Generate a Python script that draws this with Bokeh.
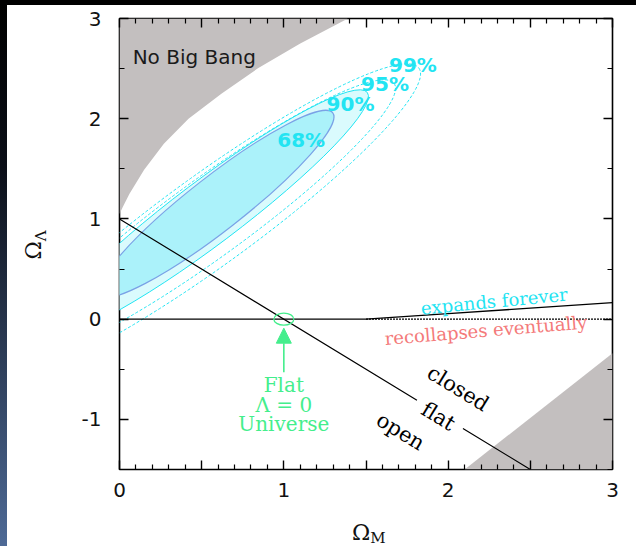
from bokeh.plotting import figure
from bokeh.models import FixedTicker, LinearAxis, Arrow, NormalHead, Div, Range1d
from bokeh.layouts import column, row
from bokeh.embed import file_html
from bokeh.resources import INLINE
from bokeh.core.properties import value

# ---------------- data ----------------
x_major_ticks = [0.0, 0.5, 1.0, 1.5, 2.0, 2.5, 3.0]
x_tick_labels = ["0", "", "1", "", "2", "", "3"]
x_minor_ticks = [0.1, 0.2, 0.3, 0.4, 0.6, 0.7, 0.8, 0.9, 1.1, 1.2, 1.3, 1.4,
                 1.6, 1.7, 1.8, 1.9, 2.1, 2.2, 2.3, 2.4, 2.6, 2.7, 2.8, 2.9]
y_major_ticks = [-1.0, 0.0, 1.0, 2.0, 3.0]
y_tick_labels = ["-1", "0", "1", "2", "3"]
y_minor_ticks = [-1.5, -0.5, 0.5, 1.5, 2.5]

x_title = ("\u03a9", "M")
y_title = ("\u03a9", "\u039b")

# "No Big Bang" excluded region (upper left)
nbb_x = [0.0, 0.0, 0.02, 0.06, 0.15, 0.27, 0.42, 0.62, 0.84, 1.10, 1.39]
nbb_y = [3.0, 1.05, 1.12, 1.25, 1.49, 1.75, 2.00, 2.25, 2.50, 2.75, 3.00]

# excluded region (lower right)
lr_x = [2.10, 3.00, 3.00]
lr_y = [-1.50, -0.34, -1.50]

# confidence contours (approximated as ellipses)
levels = ["68%", "90%", "95%", "99%"]
cont_cx = [0.588, 0.536, 0.539, 0.542]
cont_cy = [1.150, 1.061, 1.003, 0.980]
cont_w = [296, 400, 460, 520]      # major axis, px
cont_h = [54, 64, 78, 90]          # minor axis, px
cont_ang = [38.0, 37.0, 36.0, 36.0]
lab_x = [0.96, 1.26, 1.47, 1.64]
lab_y = [1.79, 2.15, 2.35, 2.54]

# flat universe line  (Omega_L = 1 - Omega_M), broken around the "flat" label
flat_x = [0.0, 1.81, float("nan"), 2.09, 2.50]
flat_y = [1.0, -0.81, float("nan"), -1.09, -1.50]

# Omega_L = 0 line and expand/recollapse boundary
zero_solid_x = [0.0, 1.5]
zero_dot_x = [1.5, 3.0]
zero_y = [0.0, 0.0]
exp_x = [1.5, 2.0, 2.5, 3.0]
exp_y = [0.0, 0.055, 0.11, 0.166]

# flat lambda = 0 universe marker + arrow
flat_pt_x = [1.0]
flat_pt_y = [0.0]
arrow_x = [1.0, 1.0]
arrow_y = [-0.53, -0.09]
flat_text = ["Flat", "\u039b = 0", "Universe"]
flat_text_y = [-0.66, -0.86, -1.05]

curv_text = ["closed", "flat", "open"]
curv_x = [2.06, 1.94, 1.71]
curv_y = [-0.69, -0.97, -1.12]

# ---------------- colours ----------------
GREY = "#c3bfbf"
FILL68 = "#abf2fa"
FILL90 = "#dafbfd"
LINE68 = "#7aa2e6"
CYAN = "#22e4f2"
GREEN = "#44ee8c"
SALMON = "#f47a7a"

p = figure(frame_width=493, frame_height=451,
           x_range=Range1d(0, 3), y_range=Range1d(-1.5, 3),
           output_backend="svg", toolbar_location=None,
           min_border_left=45, min_border_right=24,
           min_border_top=13, min_border_bottom=41,
           background_fill_color="white", border_fill_color="white",
           outline_line_color="black", outline_line_width=1.6)
p.xgrid.grid_line_color = None
p.ygrid.grid_line_color = None


def style_axis(ax, ticks, minor, labels, show):
    ax.ticker = FixedTicker(ticks=ticks, minor_ticks=minor)
    ax.axis_line_color = None
    ax.major_tick_in = 9
    ax.major_tick_out = 0
    ax.minor_tick_in = 5
    ax.minor_tick_out = 0
    ax.major_tick_line_color = "black"
    ax.major_tick_line_width = 1.4
    ax.minor_tick_line_color = "black"
    ax.minor_tick_line_width = 1.2
    ax.major_label_overrides = {t: l for t, l in zip(ticks, labels)}
    if show:
        ax.major_label_text_font = "DejaVu Sans"
        ax.major_label_text_font_size = "20px"
        ax.major_label_text_color = "#111111"
    else:
        ax.major_label_text_font_size = "0px"
        ax.major_label_text_alpha = 0
        ax.major_label_standoff = 0


style_axis(p.xaxis[0], x_major_ticks, x_minor_ticks, x_tick_labels, True)
p.xaxis[0].major_label_standoff = 13
style_axis(p.yaxis[0], y_major_ticks, y_minor_ticks, y_tick_labels, True)
p.yaxis[0].major_label_standoff = 18

top_ax = LinearAxis()
style_axis(top_ax, x_major_ticks, x_minor_ticks, x_tick_labels, False)
p.add_layout(top_ax, "above")
right_ax = LinearAxis()
style_axis(right_ax, y_major_ticks, y_minor_ticks, y_tick_labels, False)
p.add_layout(right_ax, "right")

# excluded regions
p.patch(nbb_x, nbb_y, fill_color=GREY, line_color=None)
p.patch(lr_x, lr_y, fill_color=GREY, line_color=None)

# contours
p.ellipse(x=[cont_cx[1]], y=[cont_cy[1]], width=[cont_w[1]], height=[cont_h[1]],
          angle=[cont_ang[1]], angle_units="deg", width_units="screen", height_units="screen",
          fill_color=FILL90, line_color=CYAN, line_width=1.0)
p.ellipse(x=[cont_cx[0]], y=[cont_cy[0]], width=[cont_w[0]], height=[cont_h[0]],
          angle=[cont_ang[0]], angle_units="deg", width_units="screen", height_units="screen",
          fill_color=FILL68, line_color=LINE68, line_width=1.2)
p.ellipse(x=cont_cx[2:], y=cont_cy[2:], width=cont_w[2:], height=cont_h[2:],
          angle=cont_ang[2:], angle_units="deg", width_units="screen", height_units="screen",
          fill_color=None, line_color=CYAN, line_width=1.0, line_dash="3 2")

# lines
p.line(flat_x, flat_y, line_color="black", line_width=1.2)
p.line(zero_solid_x, zero_y, line_color="black", line_width=1.3)
p.line(zero_dot_x, zero_y, line_color="black", line_width=1.3, line_dash="2 1")
p.line(exp_x, exp_y, line_color="black", line_width=1.3)

# flat universe marker
p.ellipse(x=flat_pt_x, y=flat_pt_y, width=20, height=12, width_units="screen",
          height_units="screen", fill_color=None, line_color=GREEN, line_width=1.3)
p.add_layout(Arrow(end=NormalHead(size=15, fill_color=GREEN, line_color=GREEN),
                   x_start=arrow_x[0], y_start=arrow_y[0], x_end=arrow_x[1], y_end=arrow_y[1],
                   line_color=GREEN, line_width=1.6))

# texts
p.text(x=[0.08], y=[2.62], text=["No Big Bang"], text_font=value("DejaVu Sans"),
       text_font_size="20px", text_color="#1a1a1a", text_baseline="middle")
p.text(x=lab_x, y=lab_y, text=levels, text_font=value("DejaVu Sans"),
       text_font_style="bold", text_font_size="20px", text_color=CYAN, text_baseline="middle")
p.text(x=[1.0] * 3, y=flat_text_y, text=flat_text, text_font=value("DejaVu Serif"),
       text_font_size="20px", text_color=GREEN, text_align="center", text_baseline="middle")
p.text(x=curv_x, y=curv_y, text=curv_text, angle=-31.4, angle_units="deg",
       text_font=value("DejaVu Serif"), text_font_size="21px", text_color="black",
       text_align="center", text_baseline="middle")
p.text(x=[2.28], y=[0.18], text=["expands forever"], angle=5.5, angle_units="deg",
       text_font=value("DejaVu Serif"), text_font_size="18px", text_color=CYAN,
       text_align="center", text_baseline="middle")
p.text(x=[2.23], y=[-0.11], text=["recollapses eventually"], angle=4.7, angle_units="deg",
       text_font=value("DejaVu Serif"), text_font_size="18px", text_color=SALMON,
       text_align="center", text_baseline="middle")

# axis titles as HTML with real subscripts
FONT = "font-family:'DejaVu Serif'; color:#111111; white-space:nowrap;"
x_title_html = (
    f'<div style="{FONT} font-size:22px; line-height:22px; margin-left:278px; margin-top:12px;">'
    f'{x_title[0]}<sub style="font-size:15px; vertical-align:-0.2em;">{x_title[1]}</sub></div>'
)
y_title_html = (
    f'<div style="{FONT} font-size:22px; line-height:30px; width:120px; height:30px; '
    f'text-align:center; margin-left:-33px; margin-top:225px; transform:rotate(-90deg); '
    f'transform-origin:50% 50%;">'
    f'{y_title[0]}<sub style="font-size:15px; vertical-align:-0.3em;">{y_title[1]}</sub></div>'
)

top_bar = Div(text="", width=636, height=5, margin=0, styles={"background-color": "black"})
left_bar = Div(text="", width=7, height=541, margin=0,
               styles={"background": "linear-gradient(to bottom, #000000 0%, #0b0f18 30%, #4e6a96 100%)"})
y_title_div = Div(text=y_title_html, width=67, height=541, margin=0)
x_title_div = Div(text=x_title_html, width=562, height=36, margin=0)
p.margin = 0
layout = column(top_bar,
                row(left_bar, y_title_div, column(p, x_title_div, spacing=0), spacing=0),
                spacing=0)

open("out.html", "w").write(file_html(layout, INLINE))
